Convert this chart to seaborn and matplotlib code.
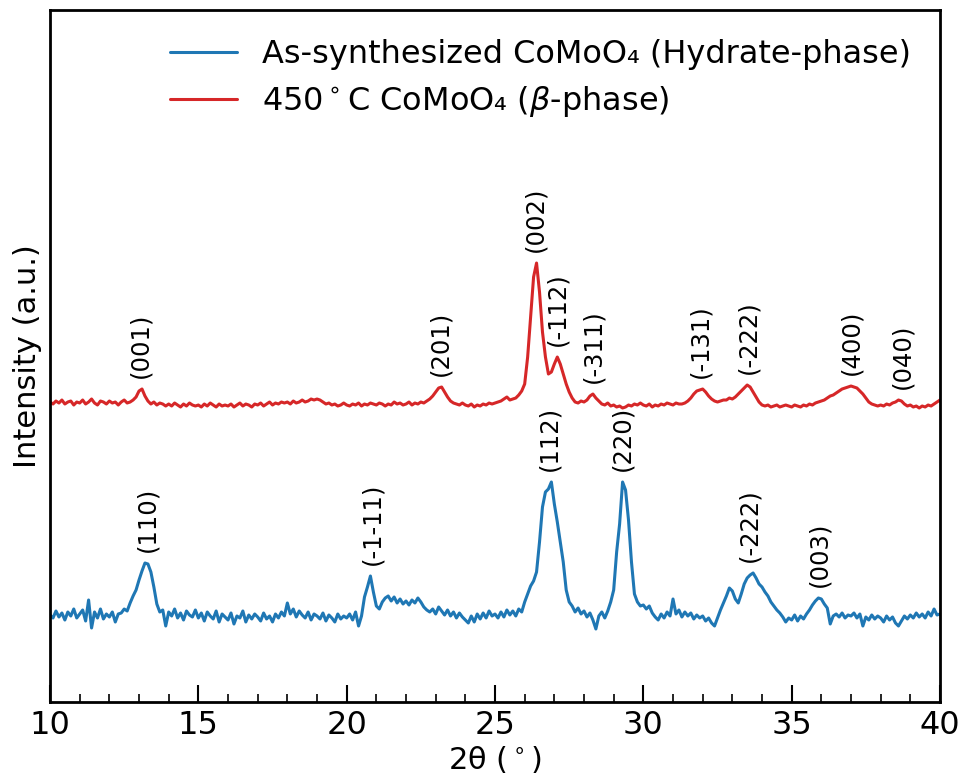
import numpy as np
import pandas as pd
import matplotlib
matplotlib.use("Agg")
import matplotlib.pyplot as plt
import seaborn as sns

# 2-theta grid, 10.0 .. 40.0 in 0.1 deg steps
two_theta = np.round(np.arange(10.0, 40.05, 0.1), 1)

# intensity (a.u.), 10 values per degree + final point
beta_phase = [
    300, 298, 301, 299, 302, 298, 300, 301, 297, 300,   # 10
    299, 302, 298, 300, 303, 299, 297, 301, 300, 298,   # 11
    301, 299, 300, 297, 300, 302, 299, 300, 302, 305,   # 12
    311, 313, 306, 301, 298, 300, 297, 299, 298, 296,   # 13
    298, 296, 299, 297, 295, 298, 296, 299, 297, 296,   # 14
    297, 295, 298, 296, 299, 297, 295, 298, 296, 297,   # 15
    296, 298, 295, 297, 299, 296, 298, 297, 295, 298,   # 16
    297, 299, 296, 298, 300, 297, 299, 298, 300, 299,   # 17
    300, 298, 301, 299, 300, 302, 300, 301, 303, 302,   # 18
    303, 302, 300, 298, 299, 297, 298, 296, 297, 299,   # 19
    297, 296, 298, 297, 299, 296, 298, 297, 299, 298,   # 20
    297, 299, 298, 296, 298, 297, 300, 298, 299, 297,   # 21
    298, 300, 297, 299, 298, 300, 299, 301, 303, 306,   # 22
    310, 314, 315, 310, 305, 301, 299, 298, 297, 299,   # 23
    297, 296, 298, 295, 297, 296, 298, 297, 299, 298,   # 24
    299, 300, 301, 303, 305, 302, 303, 304, 307, 311,   # 25
    318, 345, 385, 425, 439, 410, 370, 345, 328, 330,   # 26
    338, 345, 338, 328, 318, 310, 304, 300, 299, 301,   # 27
    300, 302, 306, 308, 304, 301, 298, 297, 299, 296,   # 28
    297, 295, 296, 294, 295, 297, 296, 298, 297, 299,   # 29
    297, 296, 298, 295, 297, 296, 298, 297, 299, 298,   # 30
    297, 299, 298, 298, 299, 301, 304, 308, 311, 312,   # 31
    313, 310, 306, 303, 301, 300, 301, 302, 302, 304,   # 32
    303, 305, 308, 311, 314, 317, 315, 310, 305, 300,   # 33
    297, 296, 297, 295, 296, 297, 295, 296, 297, 296,   # 34
    295, 297, 296, 295, 297, 296, 298, 297, 299, 300,   # 35
    301, 302, 304, 306, 307, 309, 311, 313, 314, 315,   # 36
    316, 315, 314, 311, 308, 304, 300, 298, 297, 296,   # 37
    297, 296, 298, 297, 299, 300, 302, 301, 298, 296,   # 38
    297, 295, 296, 294, 296, 295, 297, 296, 298, 300,   # 39
    302,
]

hydrate_phase = [
    87, 84, 91, 85, 89, 82, 90, 86, 93, 84,             # 10
    88, 92, 81, 102, 74, 90, 84, 93, 83, 88,            # 11
    85, 90, 80, 88, 89, 93, 91, 99, 106, 112,           # 12
    122, 131, 139, 138, 130, 115, 98, 90, 92, 76,       # 13
    90, 86, 93, 84, 89, 82, 91, 87, 85, 92,             # 14
    84, 89, 81, 90, 86, 83, 91, 80, 88, 85,             # 15
    82, 89, 78, 86, 84, 91, 80, 87, 83, 88,             # 16
    85, 81, 89, 83, 86, 80, 88, 84, 90, 86,             # 17
    99, 88, 93, 85, 91, 87, 84, 90, 82, 88,             # 18
    86, 83, 89, 81, 87, 84, 80, 88, 83, 86,             # 19
    84, 88, 82, 90, 76, 86, 105, 115, 126, 110,         # 20
    96, 93, 100, 104, 106, 101, 105, 99, 103, 98,       # 21
    101, 97, 102, 99, 104, 100, 95, 92, 90, 93,         # 22
    88, 95, 91, 87, 92, 86, 90, 84, 89, 85,             # 23
    82, 79, 86, 80, 88, 83, 89, 84, 91, 86,             # 24
    88, 84, 90, 85, 92, 87, 91, 86, 93, 90,             # 25
    100, 108, 116, 121, 130, 160, 195, 210, 213, 220,   # 26
    198, 180, 160, 140, 112, 100, 96, 90, 94, 88,       # 27
    91, 85, 89, 82, 73, 86, 90, 84, 91, 100,            # 28
    112, 150, 178, 220, 212, 182, 140, 108, 100, 96,    # 29
    97, 93, 96, 89, 85, 82, 88, 84, 90, 86,             # 30
    103, 88, 92, 85, 90, 86, 89, 83, 87, 84,            # 31
    86, 81, 84, 79, 76, 84, 92, 99, 106, 114,           # 32
    111, 103, 99, 108, 118, 124, 127, 129, 124, 118,    # 33
    115, 110, 106, 100, 96, 92, 89, 85, 80, 84,         # 34
    82, 87, 81, 86, 83, 88, 92, 97, 101, 104,           # 35
    103, 98, 94, 78, 86, 88, 85, 89, 84, 87,            # 36
    86, 89, 84, 88, 76, 85, 82, 87, 83, 86,             # 37
    84, 80, 86, 82, 85, 79, 76, 81, 86, 83,             # 38
    87, 84, 89, 85, 88, 84, 90, 86, 93, 87,             # 39
    88,
]

# peak assignments (Miller indices) and their 2-theta positions
beta_hkl = ["(001)", "(201)", "(002)", "(-112)", "(-311)", "(-131)", "(-222)", "(400)", "(040)"]
beta_hkl_pos = [13.03, 23.15, 26.35, 27.09, 28.30, 31.91, 33.53, 37.00, 38.72]
hydrate_hkl = ["(110)", "(-1-11)", "(112)", "(220)", "(-222)", "(003)"]
hydrate_hkl_pos = [13.27, 20.85, 26.82, 29.30, 33.59, 35.95]

label_hydrate = "As-synthesized CoMoO\u2084 (Hydrate-phase)"
label_beta = "450$^\\circ$C CoMoO\u2084 ($\\beta$-phase)"

df = pd.concat([
    pd.DataFrame({"two_theta": two_theta, "intensity": hydrate_phase, "sample": label_hydrate}),
    pd.DataFrame({"two_theta": two_theta, "intensity": beta_phase, "sample": label_beta}),
])

sns.set_style("ticks")
plt.rcParams["font.family"] = ["DejaVu Sans"]
plt.rcParams["text.color"] = "black"
plt.rcParams["axes.labelcolor"] = "black"
plt.rcParams["xtick.color"] = "black"

fig, ax = plt.subplots(figsize=(9.64, 7.78), dpi=100)
fig.subplots_adjust(left=0.0519, right=0.9751, top=0.9871, bottom=0.0977)

sns.lineplot(data=df, x="two_theta", y="intensity", hue="sample",
             palette=["#1f77b4", "#d62728"], estimator=None, sort=True,
             linewidth=2.2, ax=ax)


def annotate_peaks(names, positions, series):
    y = np.asarray(series)
    for name, pos in zip(names, positions):
        near = np.abs(two_theta - pos) <= 0.15
        top = y[near].max()
        ax.text(pos, top + 11, name, rotation=90, ha="center", va="bottom",
                fontsize=17.5, color="black")


annotate_peaks(beta_hkl, beta_hkl_pos, beta_phase)
annotate_peaks(hydrate_hkl, hydrate_hkl_pos, hydrate_phase)

ax.set_xlim(10, 40)
ax.set_ylim(0, 692)
ax.set_yticks([])
ax.set_xticks(range(10, 41, 5))
ax.set_xticks(range(10, 41, 1), minor=True)
ax.tick_params(axis="x", which="major", direction="in", length=12, width=1.5,
               labelsize=23, pad=6, colors="black")
ax.tick_params(axis="x", which="minor", direction="in", length=6, width=1.2)
for sp in ax.spines.values():
    sp.set_linewidth(2)
    sp.set_color("black")

ax.set_xlabel("2\u03b8 ($^\\circ$)", fontsize=22, labelpad=2)
ax.set_ylabel("Intensity (a.u.)", fontsize=22, labelpad=6)

handles, labels = ax.get_legend_handles_labels()
ax.legend(handles, labels, loc="upper right", frameon=False, fontsize=23,
          handlelength=2.1, handletextpad=0.8, borderaxespad=0.5,
          labelspacing=0.45)

fig.savefig("out.png", dpi=100)
